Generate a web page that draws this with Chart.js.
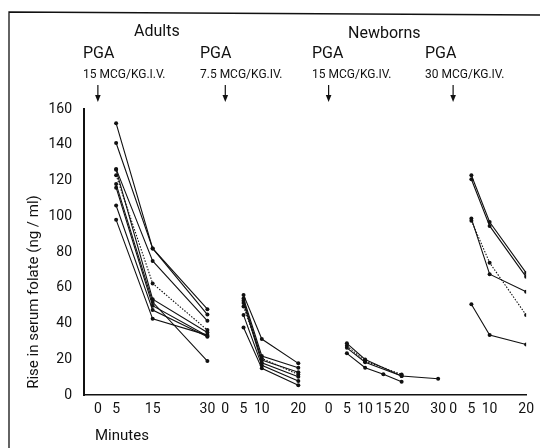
<!DOCTYPE html>
<html>
<head>
<meta charset="utf-8">
<script src="https://cdn.jsdelivr.net/npm/chart.js@4"></script>
<style>
  body { margin: 0; background: #fff; }
  canvas { display: block; }
</style>
</head>
<body>
<canvas id="folateChart" width="540" height="448"></canvas>
<script>
// sampling times (minutes after injection) and rise in serum folate (ng/ml)
const adults15Min = [5, 15, 30];
const adults15 = [
  [152, 82, 45],
  [141, 82, 48],
  [126.5, 75, 41.5],
  [126, 53.6, 35],
  [118, 52, 19],
  [116, 50, 33],
  [106, 47.5, 32.6],
  [98, 42.6, 33.5]
];
const adults15Mean = [123, 62.4, 36.3];

const adults75Min = [5, 10, 20];
const adults75 = [
  [56, 31.3, 17.7],
  [54, 21.8, 15.3],
  [52.7, 19.6, 12.7],
  [51.5, 18, 10.2],
  [44.7, 16.6, 7.8],
  [37.8, 14.9, 5.4]
];
const adults75Mean = [49.5, 20.5, 11.5];

const newborns15Min = [5, 10, 15, 20, 30];
const newborns15 = [
  [28.9, 19.9, null, 10.6, 9.1],
  [26.4, 18.3, null, 10.6, null],
  [23.3, 15.3, 11.6, 7.4, null]
];
const newborns15Mean = [27.5, 19, null, 11.5, null];

const newborns30Min = [5, 10, 20];
const newborns30 = [
  [122.9, 96.8, 68.3],
  [120.7, 94.6, 66.1],
  [98.7, 67.6, 57.7],
  [50.8, 33.5, 28.3]
];
const newborns30Mean = [97.5, 74, 44.7];

// tick labels under each panel
const tickMinutes = [[0, 5, 15, 30], [0, 5, 10, 20], [0, 5, 10, 15, 20, 30], [0, 5, 10, 20]];
const groupTitles = ['Adults', 'Newborns'];
const doseLabels = ['15 MCG/KG.I.V.', '7.5 MCG/KG.IV.', '15 MCG/KG.IV.', '30 MCG/KG.IV.'];

// where each panel's time zero sits on the shared x axis
const panelStart = [0, 34.9, 63.2, 97.3];

const FONT = 'Roboto, "Liberation Sans", sans-serif';
const INK = '#111';

function series(panel, minutes, values, dotted) {
  const pts = [];
  minutes.forEach((m, i) => {
    if (values[i] != null) pts.push({ x: panelStart[panel] + m, y: values[i] });
  });
  return {
    data: pts,
    borderColor: INK,
    borderWidth: 1.1,
    borderDash: dotted ? [1.5, 1.5] : [],
    pointRadius: 2,
    pointBorderWidth: 0,
    pointBackgroundColor: INK,
    tension: 0
  };
}

const datasets = [];
adults15.forEach(v => datasets.push(series(0, adults15Min, v, false)));
datasets.push(series(0, adults15Min, adults15Mean, true));
adults75.forEach(v => datasets.push(series(1, adults75Min, v, false)));
datasets.push(series(1, adults75Min, adults75Mean, true));
newborns15.forEach(v => datasets.push(series(2, newborns15Min, v, false)));
datasets.push(series(2, newborns15Min, newborns15Mean, true));
newborns30.forEach(v => datasets.push(series(3, newborns30Min, v, false)));
datasets.push(series(3, newborns30Min, newborns30Mean, true));

const tickValues = [];
const tickText = [];
tickMinutes.forEach((list, p) => list.forEach(m => {
  tickValues.push(panelStart[p] + m);
  tickText.push(String(m));
}));

const decor = {
  id: 'decor',
  afterDraw(chart) {
    const ctx = chart.ctx;
    const x = chart.scales.x;
    ctx.save();
    ctx.strokeStyle = INK;
    ctx.fillStyle = INK;

    // figure frame
    ctx.lineWidth = 1.3;
    ctx.beginPath();
    ctx.moveTo(9, 448);
    ctx.lineTo(9, 12);
    ctx.lineTo(540, 15);
    ctx.stroke();

    ctx.textBaseline = 'middle';
    ctx.textAlign = 'left';
    ctx.font = '16px ' + FONT;
    ctx.fillText(groupTitles[0], 134, 32);
    ctx.fillText(groupTitles[1], 348, 34);

    const textLeft = [83, 200, 312, 425];
    doseLabels.forEach((d, i) => {
      ctx.font = '16px ' + FONT;
      ctx.fillText('PGA', textLeft[i], 54);
      ctx.font = '12px ' + FONT;
      ctx.fillText(d, textLeft[i], 75);

      // injection arrow
      const ax = x.getPixelForValue(panelStart[i]);
      ctx.lineWidth = 1.2;
      ctx.beginPath();
      ctx.moveTo(ax, 85);
      ctx.lineTo(ax, 97);
      ctx.stroke();
      ctx.beginPath();
      ctx.moveTo(ax - 2.8, 95);
      ctx.lineTo(ax + 2.8, 95);
      ctx.lineTo(ax, 102);
      ctx.closePath();
      ctx.fill();
    });

    // axis titles
    ctx.font = '15px ' + FONT;
    ctx.fillText('Minutes', 95, 436);
    ctx.save();
    ctx.translate(34, 292);
    ctx.rotate(-Math.PI / 2);
    ctx.textAlign = 'center';
    ctx.fillText('Rise in serum folate (ng / ml)', 0, 0);
    ctx.restore();

    ctx.restore();
  }
};

new Chart(document.getElementById('folateChart'), {
  type: 'line',
  data: { datasets },
  plugins: [decor],
  options: {
    responsive: false,
    animation: false,
    events: [],
    layout: { padding: { top: 109, right: 8, bottom: 0, left: 0 } },
    plugins: {
      legend: { display: false },
      tooltip: { enabled: false }
    },
    scales: {
      x: {
        type: 'linear',
        min: -3.8,
        max: 117.3,
        afterBuildTicks: scale => {
          scale.ticks = tickValues.map(v => ({ value: v }));
        },
        afterFit: scale => { scale.height = 53; },
        grid: { display: false, drawTicks: false },
        border: { display: true, color: INK, width: 1.5 },
        ticks: {
          autoSkip: false,
          maxRotation: 0,
          padding: 6,
          color: INK,
          font: { family: FONT, size: 14 },
          callback: (value, index) => tickText[index]
        }
      },
      y: {
        min: 0,
        max: 160,
        afterFit: scale => { scale.width = 84; },
        grid: { display: false, drawTicks: false },
        border: { display: true, color: INK, width: 2 },
        ticks: {
          stepSize: 20,
          padding: 12,
          color: INK,
          font: { family: FONT, size: 14 }
        }
      }
    }
  }
});
</script>
</body>
</html>
